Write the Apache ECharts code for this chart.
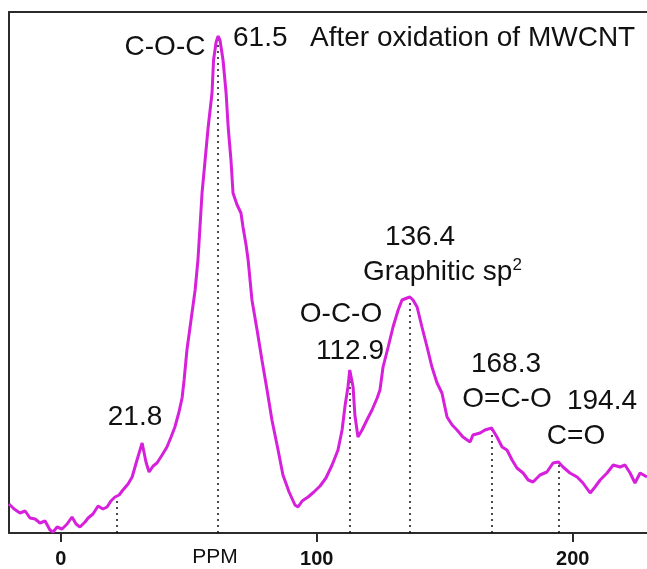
<!DOCTYPE html>
<html>
<head>
<meta charset="utf-8">
<script src="https://cdn.jsdelivr.net/npm/echarts@6/dist/echarts.min.js"></script>
<style>
  html, body { margin: 0; padding: 0; background: #ffffff; }
  #chart { width: 647px; height: 569px; }
</style>
</head>
<body>
<div id="chart"></div>
<script>
// 13C NMR spectrum of oxidised MWCNT: chemical shift (ppm) and intensity (a.u.)
const ppm = [
  -20.2, -18.2, -15.9, -13.9, -12.0, -10.0, -8.1, -6.1, -4.2, -3.0,
  -1.4, 0.5, 2.5, 4.4, 6.0, 7.5, 9.5, 10.7, 12.6, 14.6,
  16.5, 18.1, 19.6, 21.2, 22.8, 24.3, 26.3, 27.9, 29.8, 31.8,
  33.3, 34.5, 36.1, 37.6, 39.6, 41.5, 43.1, 44.6, 46.2, 47.4,
  48.2, 49.3, 50.9, 52.5, 53.6, 54.4, 55.2, 56.4, 57.6, 59.1,
  59.7, 60.7, 61.5, 62.2, 63.4, 64.6, 65.4, 66.5, 67.3, 68.9,
  70.4, 71.2, 72.4, 73.2, 74.7, 76.7, 78.6, 80.6, 82.5, 84.9,
  86.8, 89.2, 91.5, 92.7, 94.3, 96.6, 98.9, 101.3, 103.6, 106.0,
  108.3, 109.9, 111.1, 112.2, 112.9, 114.2, 114.9, 116.1, 117.7, 119.6,
  121.6, 123.6, 124.7, 125.9, 127.9, 129.8, 131.8, 133.3, 135.3, 136.4,
  137.6, 139.2, 141.1, 143.1, 145.0, 147.0, 148.9, 150.9, 152.9, 154.8,
  157.1, 159.9, 161.0, 163.8, 165.7, 168.3, 170.4, 172.4, 174.3, 176.3,
  178.2, 180.6, 182.6, 184.5, 187.2, 189.9, 192.3, 194.4, 196.2, 198.9,
  201.7, 204.0, 206.8, 208.7, 210.7, 213.4, 215.8, 218.5, 220.4, 222.4,
  224.3, 226.3, 229.0
];
const intensity = [
  29, 24, 20, 22, 15, 14, 10, 12, 3, 1,
  6, 4, 9, 16, 9, 6, 11, 15, 19, 27,
  24, 26, 32, 36, 38, 43, 49, 56, 73, 90,
  71, 61, 67, 70, 78, 86, 96, 106, 121, 135,
  153, 183, 213, 243, 273, 306, 340, 373, 406, 440,
  473, 491, 497, 493, 473, 440, 406, 373, 340, 328,
  320, 306, 288, 273, 233, 203, 173, 143, 113, 83,
  58, 41, 28, 26, 32, 36, 41, 47, 55, 68,
  83, 103, 128, 146, 163, 146, 118, 96, 103, 113,
  123, 135, 143, 166, 186, 206, 223, 233, 235, 236,
  233, 226, 206, 186, 166, 150, 140, 116, 108, 103,
  96, 91, 98, 100, 103, 105, 96, 86, 83, 73,
  65, 60, 53, 51, 58, 61, 70, 71, 66, 60,
  56, 50, 40, 46, 53, 60, 68, 66, 68, 60,
  50, 60, 56
];
const xTicks = [0, 100, 200];
const peakShifts = [21.8, 61.5, 112.9, 136.4, 168.3, 194.4];

const FONT = "'Liberation Sans', Arial, sans-serif";
const LINE = '#d620dc';
const AXIS = '#2b2b2b';

const spectrum = ppm.map((x, i) => [x, intensity[i]]);

// linear interpolation of the spectrum at a given shift
function intensityAt(x) {
  for (let i = 1; i < ppm.length; i++) {
    if (x <= ppm[i]) {
      const t = (x - ppm[i - 1]) / (ppm[i] - ppm[i - 1]);
      return intensity[i - 1] + t * (intensity[i] - intensity[i - 1]);
    }
  }
  return intensity[intensity.length - 1];
}

const peakMarkers = peakShifts.map(x => [
  { coord: [x, 0] },
  { coord: [x, intensityAt(x)] }
]);

function label(text, x, y, align) {
  return {
    type: 'text', x: x, y: y, silent: true,
    style: {
      text: text, font: '28px ' + FONT, fill: '#111',
      textAlign: align || 'center', textVerticalAlign: 'middle'
    }
  };
}

const chart = echarts.init(document.getElementById('chart'), null, { renderer: 'canvas' });
chart.setOption({
  animation: false,
  backgroundColor: '#ffffff',
  grid: { left: 9, right: 0, top: 12, bottom: 36 },
  xAxis: [{
    type: 'value', min: -20.2, max: 229, position: 'bottom',
    axisLine: { show: true, onZero: false, lineStyle: { color: AXIS, width: 2 } },
    axisTick: { show: true, customValues: xTicks, length: 9, inside: false,
                lineStyle: { color: AXIS, width: 2 } },
    axisLabel: { show: true, customValues: xTicks, margin: 16,
                 fontFamily: FONT, fontSize: 20, fontWeight: 'bold', color: '#111' },
    splitLine: { show: false }
  }, {
    type: 'value', min: -20.2, max: 229, position: 'top',
    axisLine: { show: true, onZero: false, lineStyle: { color: AXIS, width: 2 } },
    axisTick: { show: false }, axisLabel: { show: false }, splitLine: { show: false }
  }],
  yAxis: {
    type: 'value', min: 0, max: 521, position: 'left',
    axisLine: { show: true, onZero: false, lineStyle: { color: AXIS, width: 2 } },
    axisTick: { show: false }, axisLabel: { show: false }, splitLine: { show: false }
  },
  series: [{
    type: 'line',
    data: spectrum,
    showSymbol: false,
    smooth: false,
    lineStyle: { color: LINE, width: 3 },
    z: 3,
    markLine: {
      silent: true, symbol: ['none', 'none'], z: 2,
      label: { show: false },
      lineStyle: { color: '#111', width: 1.5, type: [2, 4] },
      data: peakMarkers
    }
  }],
  graphic: [
    label('C-O-C', 165, 47),
    label('61.5', 233, 38, 'left'),
    label('After oxidation of MWCNT', 310, 38, 'left'),
    label('136.4', 420, 237),
    {
      type: 'text', x: 363, y: 272, silent: true,
      style: {
        text: '{a|Graphitic sp}{b|2}',
        textAlign: 'left', textVerticalAlign: 'middle',
        rich: {
          a: { font: '28px ' + FONT, fill: '#111', lineHeight: 30 },
          b: { font: '17px ' + FONT, fill: '#111', verticalAlign: 'top', lineHeight: 30 }
        }
      }
    },
    label('O-C-O', 341, 314),
    label('112.9', 350, 351),
    label('168.3', 506, 364),
    label('O=C-O', 507, 399),
    label('194.4', 602, 401),
    label('C=O', 576, 436),
    label('21.8', 135, 417),
    {
      type: 'text', x: 215, y: 557, silent: true,
      style: { text: 'PPM', font: '21px ' + FONT, fill: '#111',
               textAlign: 'center', textVerticalAlign: 'middle' }
    }
  ]
});
</script>
</body>
</html>
